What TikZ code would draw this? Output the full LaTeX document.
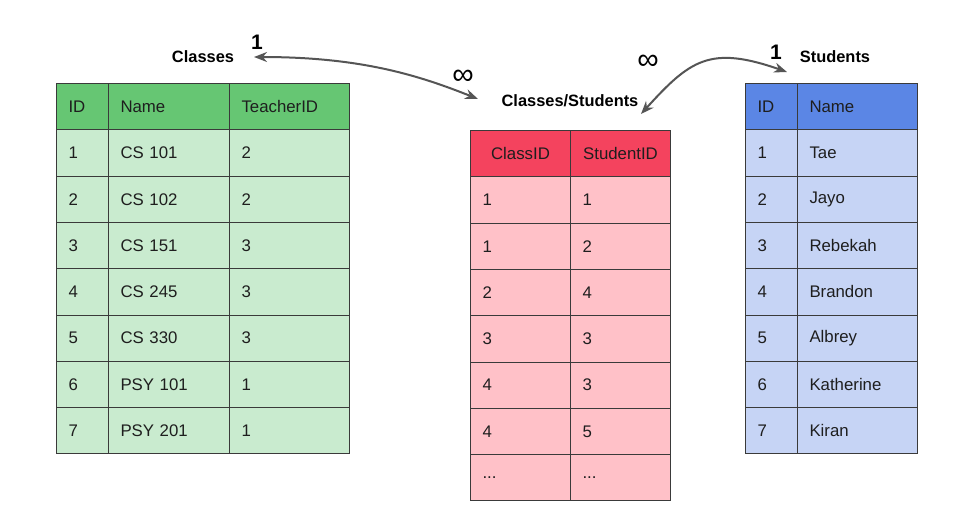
\documentclass[tikz,border=0pt]{standalone}
\usepackage{fontspec}
\setmainfont{Liberation Sans}
\usetikzlibrary{arrows.meta}
\definecolor{ghead}{HTML}{66C673}
\definecolor{gbody}{HTML}{C9EBCF}
\definecolor{rhead}{HTML}{F4435E}
\definecolor{rbody}{HTML}{FFC1C8}
\definecolor{bhead}{HTML}{5B86E5}
\definecolor{bbody}{HTML}{C6D4F5}
\definecolor{gridc}{HTML}{3A3A3A}
\definecolor{arrc}{HTML}{555555}
\definecolor{txt}{HTML}{1E1E1E}
\newcommand\celldots{...}
\begin{document}
\begin{tikzpicture}[x=1pt,y=-1pt,
  cell/.style={draw=gridc, line width=1pt, anchor=north west, inner xsep=12pt, inner ysep=0pt,
    minimum height=46.3pt, align=left, text=txt, font=\fontsize{16.8}{19}\selectfont},
  ccell/.style={cell, align=center},
  title/.style={font=\fontsize{16.4}{19}\selectfont\bfseries, text=black, inner sep=0pt},
  card/.style={font=\fontsize{21}{24}\selectfont\bfseries, text=black, inner sep=0pt},
  inf/.style={font=\fontsize{30}{32}\selectfont, text=black, inner sep=0pt},
  rel/.style={draw=arrc, line width=2pt, {Stealth[length=13pt,width=10pt]}-{Stealth[length=13pt,width=10pt]}}]
\useasboundingbox (0,0) rectangle (956,520);
\fill[white] (0,0) rectangle (956,520);

% Classes table
\node[cell, fill=ghead, text width=28pt] (cah) at (56,83) {ID};
\node[cell, fill=ghead, text width=97pt] (cbh) at (108,83) {Name};
\node[cell, fill=ghead, text width=96pt] (cch) at (229,83) {TeacherID};
\foreach \a/\b/\c [count=\i] in {1/CS 101/2, 2/CS 102/2, 3/CS 151/3, 4/CS 245/3, 5/CS 330/3, 6/PSY 101/1, 7/PSY 201/1}{
  \node[cell, fill=gbody, text width=28pt] (ca\i) at (56,{83+\i*46.3}) {\a};
  \node[cell, fill=gbody, text width=97pt] (cb\i) at (108,{83+\i*46.3}) {\b};
  \node[cell, fill=gbody, text width=96pt] (cc\i) at (229,{83+\i*46.3}) {\c};
}

% Classes/Students table
\node[ccell, fill=rhead, text width=76pt] (rah) at (470,130) {ClassID};
\node[ccell, fill=rhead, text width=76pt] (rbh) at (570,130) {StudentID};
\foreach \a/\b [count=\i] in {1/1, 1/2, 2/4, 3/3, 4/3, 4/5, \celldots/\celldots}{
  \node[cell, fill=rbody, text width=76pt] (ra\i) at (470,{130+\i*46.3}) {\a};
  \node[cell, fill=rbody, text width=76pt] (rb\i) at (570,{130+\i*46.3}) {\b};
}

% Students table
\node[cell, fill=bhead, text width=28pt] (sah) at (745,83) {ID};
\node[cell, fill=bhead, text width=96pt] (sbh) at (797,83) {Name};
\foreach \a/\b [count=\i] in {1/Tae, 2/Jayo, 3/Rebekah, 4/Brandon, 5/Albrey, 6/Katherine, 7/Kiran}{
  \node[cell, fill=bbody, text width=28pt] (sa\i) at (745,{83+\i*46.3}) {\a};
  \node[cell, fill=bbody, text width=96pt] (sb\i) at (797,{83+\i*46.3}) {\b};
}

% titles
\node[title] (tclasses) at (203,57) {Classes};
\node[title] (tcs) at (570,101) {Classes/Students};
\node[title] (tstud) at (835,57) {Students};
\node[card] (one1) at (257,42) {1};
\node[card] (one2) at (776,52) {1};
\node[inf] (inf1) at (463,77) {∞};
\node[inf] (inf2) at (648,62) {∞};

% relations
\coordinate (r1a) at (254,57);
\coordinate (r1b) at (478,99);
\coordinate (r2a) at (641,114);
\coordinate (r2b) at (787,72);
\draw[rel] (r1a) .. controls (360,57) and (418,75) .. (r1b);
\draw[rel] (r2a) .. controls (690,60) and (710,45) .. (r2b);
\end{tikzpicture}
\end{document}
